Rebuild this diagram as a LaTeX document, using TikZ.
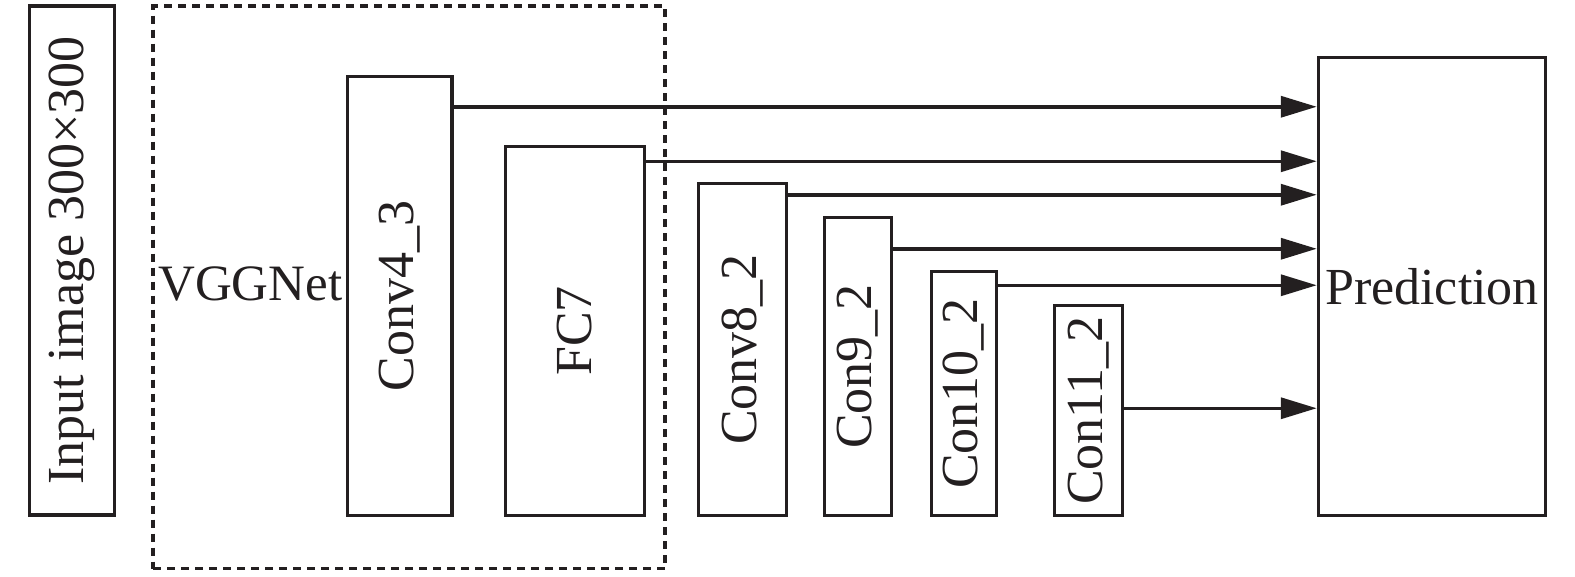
\documentclass[tikz,border=0pt]{standalone}
\usepackage{fontspec}
\setmainfont{Liberation Serif}
\usetikzlibrary{arrows.meta}
\definecolor{ink}{RGB}{35,31,32}
\begin{document}
\begin{tikzpicture}[x=1pt,y=-1pt,
  box/.style={draw=ink, line width=3.5pt, inner sep=0pt, text=ink, font=\fontsize{52}{62}\selectfont},
  lbl/.style={inner sep=0pt, text=ink, font=\fontsize{51}{61}\selectfont},
  frame/.style={draw=ink, line width=3.2pt, dash pattern=on 8pt off 6pt},
  arr/.style={draw=ink, line width=3.5pt, -{Triangle[length=36pt,width=21pt]}}]
\useasboundingbox (0,0) rectangle (1575,576);
\node[frame, minimum width=512pt, minimum height=562.5pt, inner sep=0pt] (vgg) at (409,287.25) {};
\node[lbl, anchor=base west] (vgglbl) at (158,300) {VGGNet};
\node[box, minimum width=85pt, minimum height=509pt] (inp) at (72,260.5) {\rotatebox{90}{Input image 300×300}};
\node[box, minimum width=104.5pt, minimum height=439pt] (c43) at (399.75,296) {\rotatebox{90}{Conv4\_3}};
\node[box, minimum width=139pt, minimum height=369pt] (fc7) at (575,331) {\rotatebox{90}{FC7}};
\node[box, minimum width=88pt, minimum height=332pt] (c82) at (742.5,349.5) {\rotatebox{90}{Conv8\_2}};
\node[box, minimum width=67pt, minimum height=298pt] (c92) at (858,366.5) {\rotatebox{90}{Con9\_2}};
\node[box, minimum width=65pt, minimum height=244pt] (c102) at (964,393.5) {\rotatebox{90}{Con10\_2}};
\node[box, minimum width=68pt, minimum height=210pt] (c112) at (1088.5,410.5) {\rotatebox{90}{Con11\_2}};
\node[box, minimum width=227pt, minimum height=458pt] (pred) at (1432,286.5) {Prediction};
\draw[arr] ([yshift=-32pt]c43.north east) coordinate (s1) -- (s1 -| pred.west);
\draw[arr] ([yshift=-16.5pt]fc7.north east) coordinate (s2) -- (s2 -| pred.west);
\draw[arr] ([yshift=-13pt]c82.north east) coordinate (s3) -- (s3 -| pred.west);
\draw[arr] ([yshift=-33pt]c92.north east) coordinate (s4) -- (s4 -| pred.west);
\draw[arr] ([yshift=-15.5pt]c102.north east) coordinate (s5) -- (s5 -| pred.west);
\draw[arr] ([yshift=-104.5pt]c112.north east) coordinate (s6) -- (s6 -| pred.west);
\end{tikzpicture}
\end{document}
